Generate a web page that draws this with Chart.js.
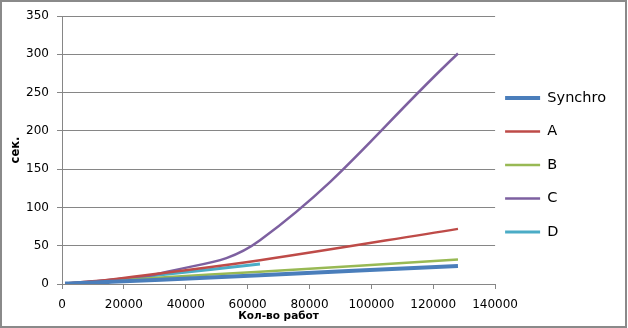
<!DOCTYPE html>
<html>
<head>
<meta charset="utf-8">
<script src="https://cdn.jsdelivr.net/npm/chart.js@4"></script>
<style>
  html, body { margin: 0; padding: 0; background: #fff; }
  #wrap { width: 628px; height: 328px; }
</style>
</head>
<body>
<div id="wrap"><canvas id="chart" width="628" height="328"></canvas></div>
<script>
// data
const jobs = [1000, 2000, 4000, 8000, 16000, 32000, 64000, 128000];
const synchro = [0.5, 0.6, 0.9, 1.5, 2.8, 5.5, 11.5, 23.5];
const seriesA = [0.6, 0.9, 1.5, 2.8, 6, 14, 31, 72];
const seriesB = [0.5, 0.7, 1.1, 2, 4, 8.5, 16, 32];
const seriesC = [0.5, 0.8, 1.3, 2.5, 5.5, 14, 57, 301];
const seriesD = [0.5, 0.7, 1.1, 2, 5, 12, 26];
const seriesNames = ['Synchro', 'A', 'B', 'C', 'D'];

function pts(vals) {
    return vals.map(function (v, i) { return { x: jobs[i], y: v }; });
}

const gridColor = '#868686';

// outer frame of the picture + small nudge of the legend block
const frame = {
    id: 'frame',
    afterLayout: function (chart) {
        const lg = chart.legend;
        lg.left -= 9; lg.right -= 9;
        lg.top -= 7; lg.bottom -= 7;
    },
    beforeDraw: function (chart) {
        const c = chart.ctx;
        c.save();
        c.fillStyle = '#fff';
        c.fillRect(0, 0, chart.width, chart.height);
        c.strokeStyle = '#8a8a8a';
        c.lineWidth = 2;
        c.strokeRect(1, 1, chart.width - 3, chart.height - 2);
        c.restore();
    }
};

document.addEventListener('DOMContentLoaded', function () {
    const ctx = document.getElementById('chart').getContext('2d');
    const myChart = new Chart(ctx, {
        type: 'line',
        data: {
            datasets: [
                { label: seriesNames[0], data: pts(synchro), borderColor: '#4a7ebb', backgroundColor: '#4a7ebb', borderWidth: 4 },
                { label: seriesNames[1], data: pts(seriesA), borderColor: '#be4b48', backgroundColor: '#be4b48', borderWidth: 2.5 },
                { label: seriesNames[2], data: pts(seriesB), borderColor: '#98b954', backgroundColor: '#98b954', borderWidth: 2.5 },
                { label: seriesNames[3], data: pts(seriesC), borderColor: '#7d60a0', backgroundColor: '#7d60a0', borderWidth: 2.5 },
                { label: seriesNames[4], data: pts(seriesD), borderColor: '#4bacc6', backgroundColor: '#4bacc6', borderWidth: 3 }
            ]
        },
        options: {
            responsive: false,
            animation: false,
            layout: { padding: { left: 0, top: 16, right: 3, bottom: 0 } },
            elements: {
                point: { radius: 0 },
                line: { tension: 0.4 }
            },
            plugins: {
                tooltip: { enabled: false },
                legend: {
                    position: 'right',
                    labels: {
                        usePointStyle: true,
                        pointStyle: 'line',
                        pointStyleWidth: 35,
                        color: '#000',
                        padding: 19,
                        font: { family: 'DejaVu Sans', size: 14.5 }
                    }
                }
            },
            scales: {
                x: {
                    type: 'linear',
                    min: 0,
                    max: 140000,
                    ticks: {
                        stepSize: 20000,
                        color: '#000',
                        padding: 9,
                        maxRotation: 0,
                        font: { family: 'DejaVu Sans', size: 12 },
                        callback: function (v) { return String(v); }
                    },
                    grid: { drawOnChartArea: false, tickLength: 5, color: gridColor },
                    border: { color: gridColor },
                    title: {
                        display: true,
                        text: 'Кол-во работ',
                        color: '#000',
                        padding: { top: 0, bottom: 5 },
                        font: { family: 'DejaVu Sans', size: 10.5, weight: 'bold' }
                    },
                    afterFit: function (s) { s.height = 328 - 284; }
                },
                y: {
                    min: 0,
                    max: 350,
                    ticks: {
                        stepSize: 50,
                        color: '#000',
                        padding: 8,
                        font: { family: 'DejaVu Sans', size: 12 }
                    },
                    grid: { color: gridColor, tickLength: 5 },
                    border: { color: gridColor },
                    title: {
                        display: true,
                        text: 'сек.',
                        color: '#000',
                        padding: { top: 9, bottom: 0 },
                        font: { family: 'DejaVu Sans', size: 11.5, weight: 'bold' }
                    },
                    afterFit: function (s) { s.width = 62; }
                }
            }
        },
        plugins: [frame]
    });
});
</script>
</body>
</html>
